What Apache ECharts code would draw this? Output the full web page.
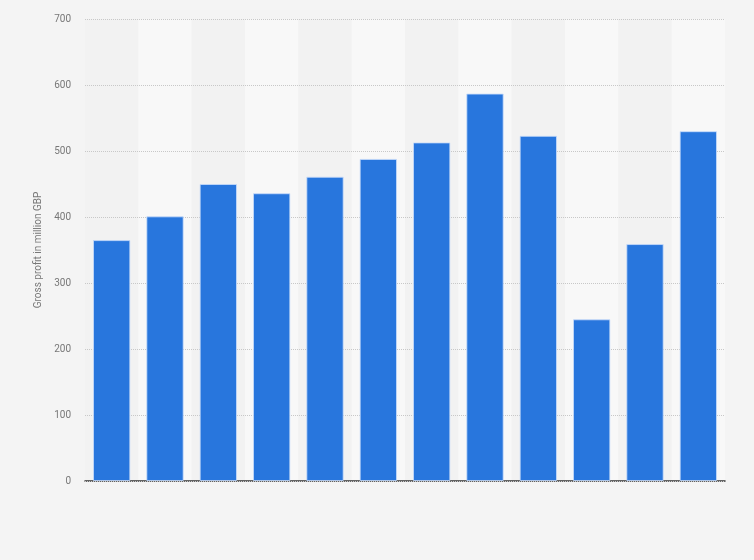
<!DOCTYPE html>
<html>
<head>
<meta charset="utf-8">
<style>
  html, body { margin: 0; padding: 0; background: #f4f4f4; }
  #chart { width: 754px; height: 560px; }
</style>
<script src="https://cdn.jsdelivr.net/npm/echarts@6/dist/echarts.min.js"></script>
</head>
<body>
<div id="chart"></div>
<script>
// categories (labels are not shown in the picture)
var years = ['2009', '2010', '2011', '2012', '2013', '2014', '2015', '2016', '2017', '2018', '2019', '2020'];
// gross profit, million GBP
var profit = [365, 401, 450, 436, 461, 488, 513, 587, 523, 245, 359, 530];
var yTicks = [0, 100, 200, 300, 400, 500, 600, 700];

var chart = echarts.init(document.getElementById('chart'));
var option = {
  backgroundColor: '#f4f4f4',
  animation: false,
  grid: {
    left: 85,
    right: 29,
    top: 19,
    bottom: 79
  },
  xAxis: {
    type: 'category',
    data: years,
    z: 0,
    axisLabel: { show: false },
    axisTick: { show: false },
    axisLine: {
      lineStyle: { color: '#333', width: 1.5 }
    },
    splitArea: {
      show: true,
      areaStyle: { color: ['#f2f2f2', '#f8f8f8'] }
    }
  },
  yAxis: {
    type: 'value',
    z: 1,
    min: yTicks[0],
    max: yTicks[yTicks.length - 1],
    interval: 100,
    name: 'Gross profit in million GBP',
    nameLocation: 'middle',
    nameGap: 42,
    nameTextStyle: { color: '#777', fontSize: 10, fontFamily: 'Roboto' },
    axisLine: { show: false },
    axisTick: { show: false },
    axisLabel: { color: '#777', fontSize: 10, fontFamily: 'Roboto', margin: 14 },
    splitLine: {
      lineStyle: { color: '#c8c8c8', type: 'dotted' }
    }
  },
  series: [
    {
      type: 'bar',
      z: 2,
      data: profit,
      barWidth: '70%',
      itemStyle: {
        color: '#2876dd',
        borderColor: 'rgba(200,220,250,0.8)',
        borderWidth: 1
      }
    }
  ]
};
chart.setOption(option);
</script>
</body>
</html>
